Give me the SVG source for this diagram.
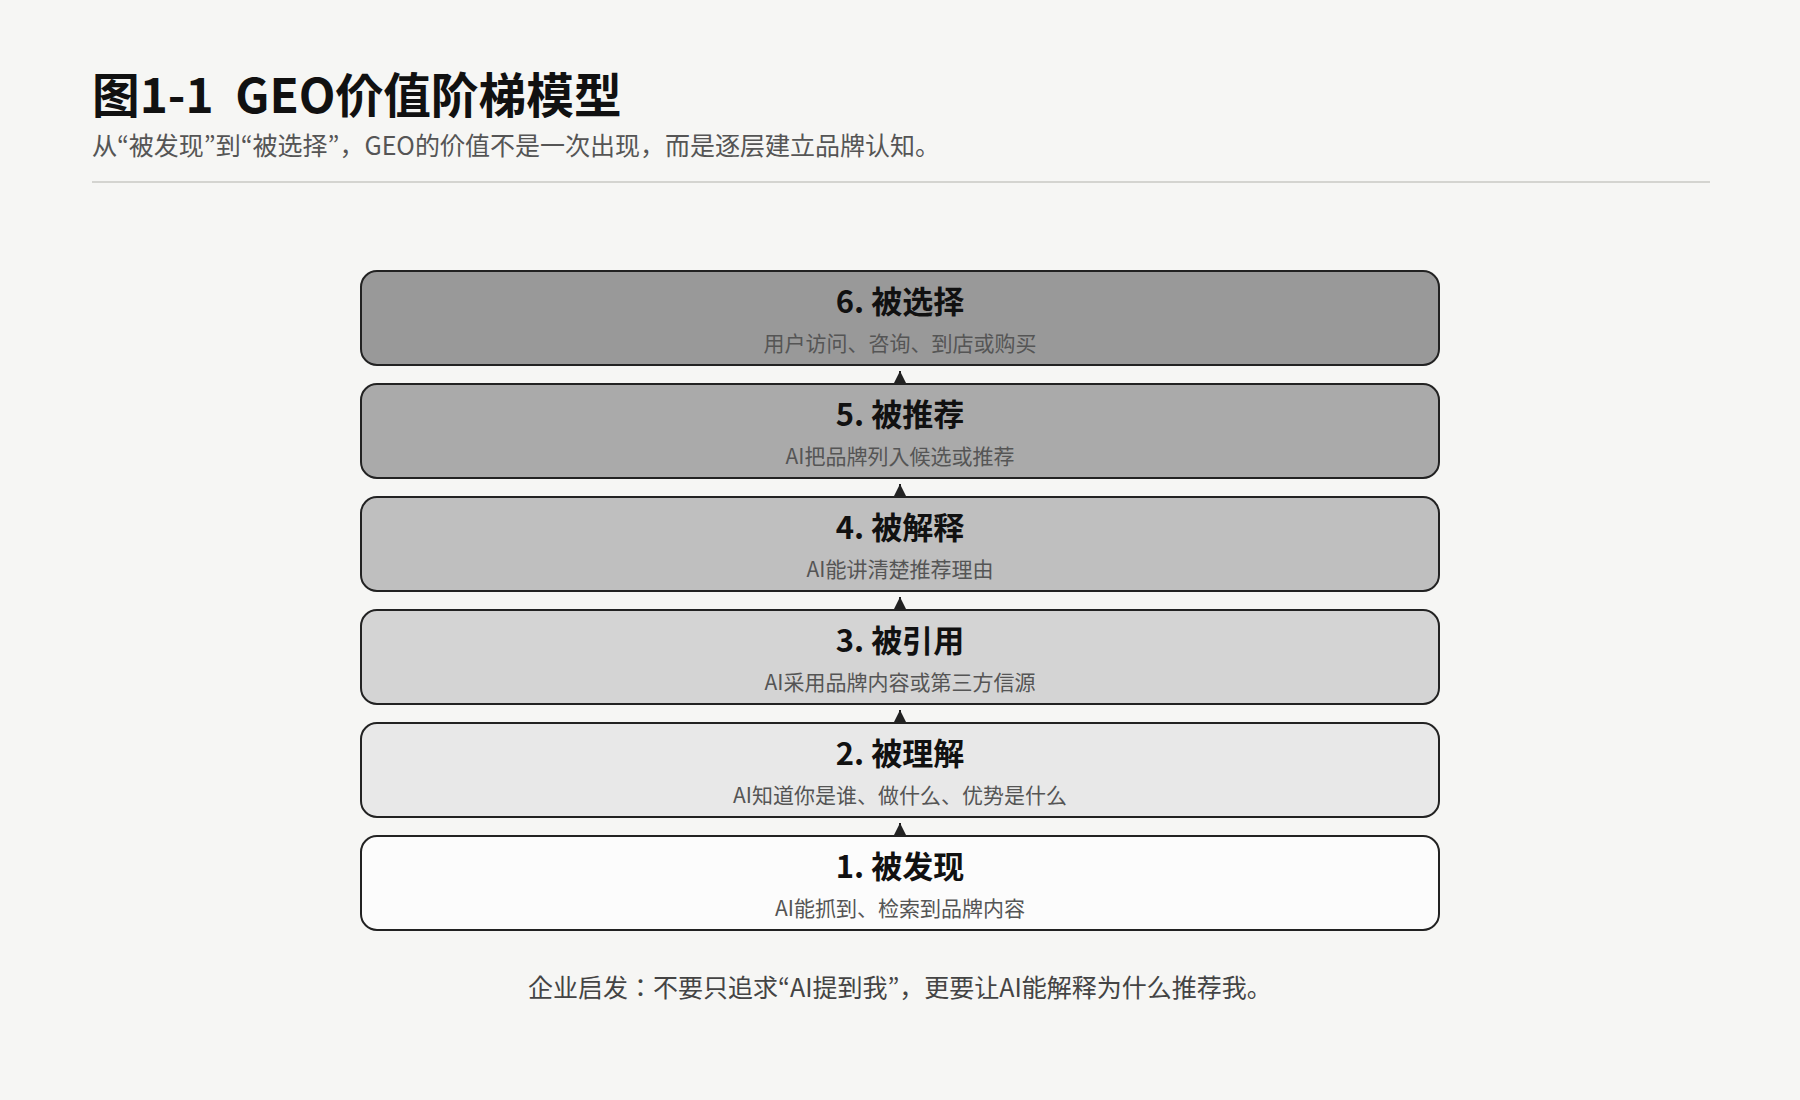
<svg xmlns="http://www.w3.org/2000/svg" width="1800" height="1100" viewBox="0 0 1800 1100">
<style>
text{font-family:"Noto Sans CJK JP","Noto Sans CJK SC",sans-serif;}
.title{font-size:47.7px;font-weight:700;fill:#111;}
.sub{font-size:25px;fill:#555;}
.box{stroke:#222;stroke-width:2;}
.h{font-size:31px;font-weight:700;fill:#111;text-anchor:middle;}
.d{font-size:21px;fill:#555;text-anchor:middle;}
.note{font-size:25px;fill:#444;text-anchor:middle;}
.conn{stroke:#222;stroke-width:2;fill:none;}
</style>
<defs>
<marker id="arr" markerUnits="userSpaceOnUse" markerWidth="12" markerHeight="12" viewBox="0 0 12 12" refX="12" refY="6" orient="auto">
<path d="M0,0 L12,6 L0,12 Z" fill="#222"/>
</marker>
</defs>
<rect width="1800" height="1100" fill="#f6f6f4"/>
<g id="header">
<text class="title" x="92" y="113" xml:space="preserve">图1-1  GEO价值阶梯模型</text>
<text class="sub" x="92" y="155">从“被发现”到“被选择”，GEO的价值不是一次出现，而是逐层建立品牌认知。</text>
<line x1="92" y1="182" x2="1710" y2="182" stroke="#d4d4d0" stroke-width="2"/>
</g>
<g id="step6">
<rect class="box" x="361" y="271" width="1078" height="94" rx="16" fill="#999999"/>
<text class="h" x="900" y="313">6. 被选择</text>
<text class="d" x="900" y="351">用户访问、咨询、到店或购买</text>
</g>
<g id="step5">
<rect class="box" x="361" y="384" width="1078" height="94" rx="16" fill="#aaaaaa"/>
<text class="h" x="900" y="426">5. 被推荐</text>
<text class="d" x="900" y="464">AI把品牌列入候选或推荐</text>
</g>
<g id="step4">
<rect class="box" x="361" y="497" width="1078" height="94" rx="16" fill="#bfbfbf"/>
<text class="h" x="900" y="539">4. 被解释</text>
<text class="d" x="900" y="577">AI能讲清楚推荐理由</text>
</g>
<g id="step3">
<rect class="box" x="361" y="610" width="1078" height="94" rx="16" fill="#d4d4d4"/>
<text class="h" x="900" y="652">3. 被引用</text>
<text class="d" x="900" y="690">AI采用品牌内容或第三方信源</text>
</g>
<g id="step2">
<rect class="box" x="361" y="723" width="1078" height="94" rx="16" fill="#e8e8e8"/>
<text class="h" x="900" y="765">2. 被理解</text>
<text class="d" x="900" y="803">AI知道你是谁、做什么、优势是什么</text>
</g>
<g id="step1">
<rect class="box" x="361" y="836" width="1078" height="94" rx="16" fill="#fcfcfc"/>
<text class="h" x="900" y="878">1. 被发现</text>
<text class="d" x="900" y="916">AI能抓到、检索到品牌内容</text>
</g>
<g id="connectors">
<line class="conn" x1="900" y1="383" x2="900" y2="371" marker-end="url(#arr)"/>
<line class="conn" x1="900" y1="496" x2="900" y2="484" marker-end="url(#arr)"/>
<line class="conn" x1="900" y1="609" x2="900" y2="597" marker-end="url(#arr)"/>
<line class="conn" x1="900" y1="722" x2="900" y2="710" marker-end="url(#arr)"/>
<line class="conn" x1="900" y1="835" x2="900" y2="823" marker-end="url(#arr)"/>
</g>
<g id="note">
<text class="note" x="900" y="997">企业启发：不要只追求“AI提到我”，更要让AI能解释为什么推荐我。</text>
</g>
</svg>
